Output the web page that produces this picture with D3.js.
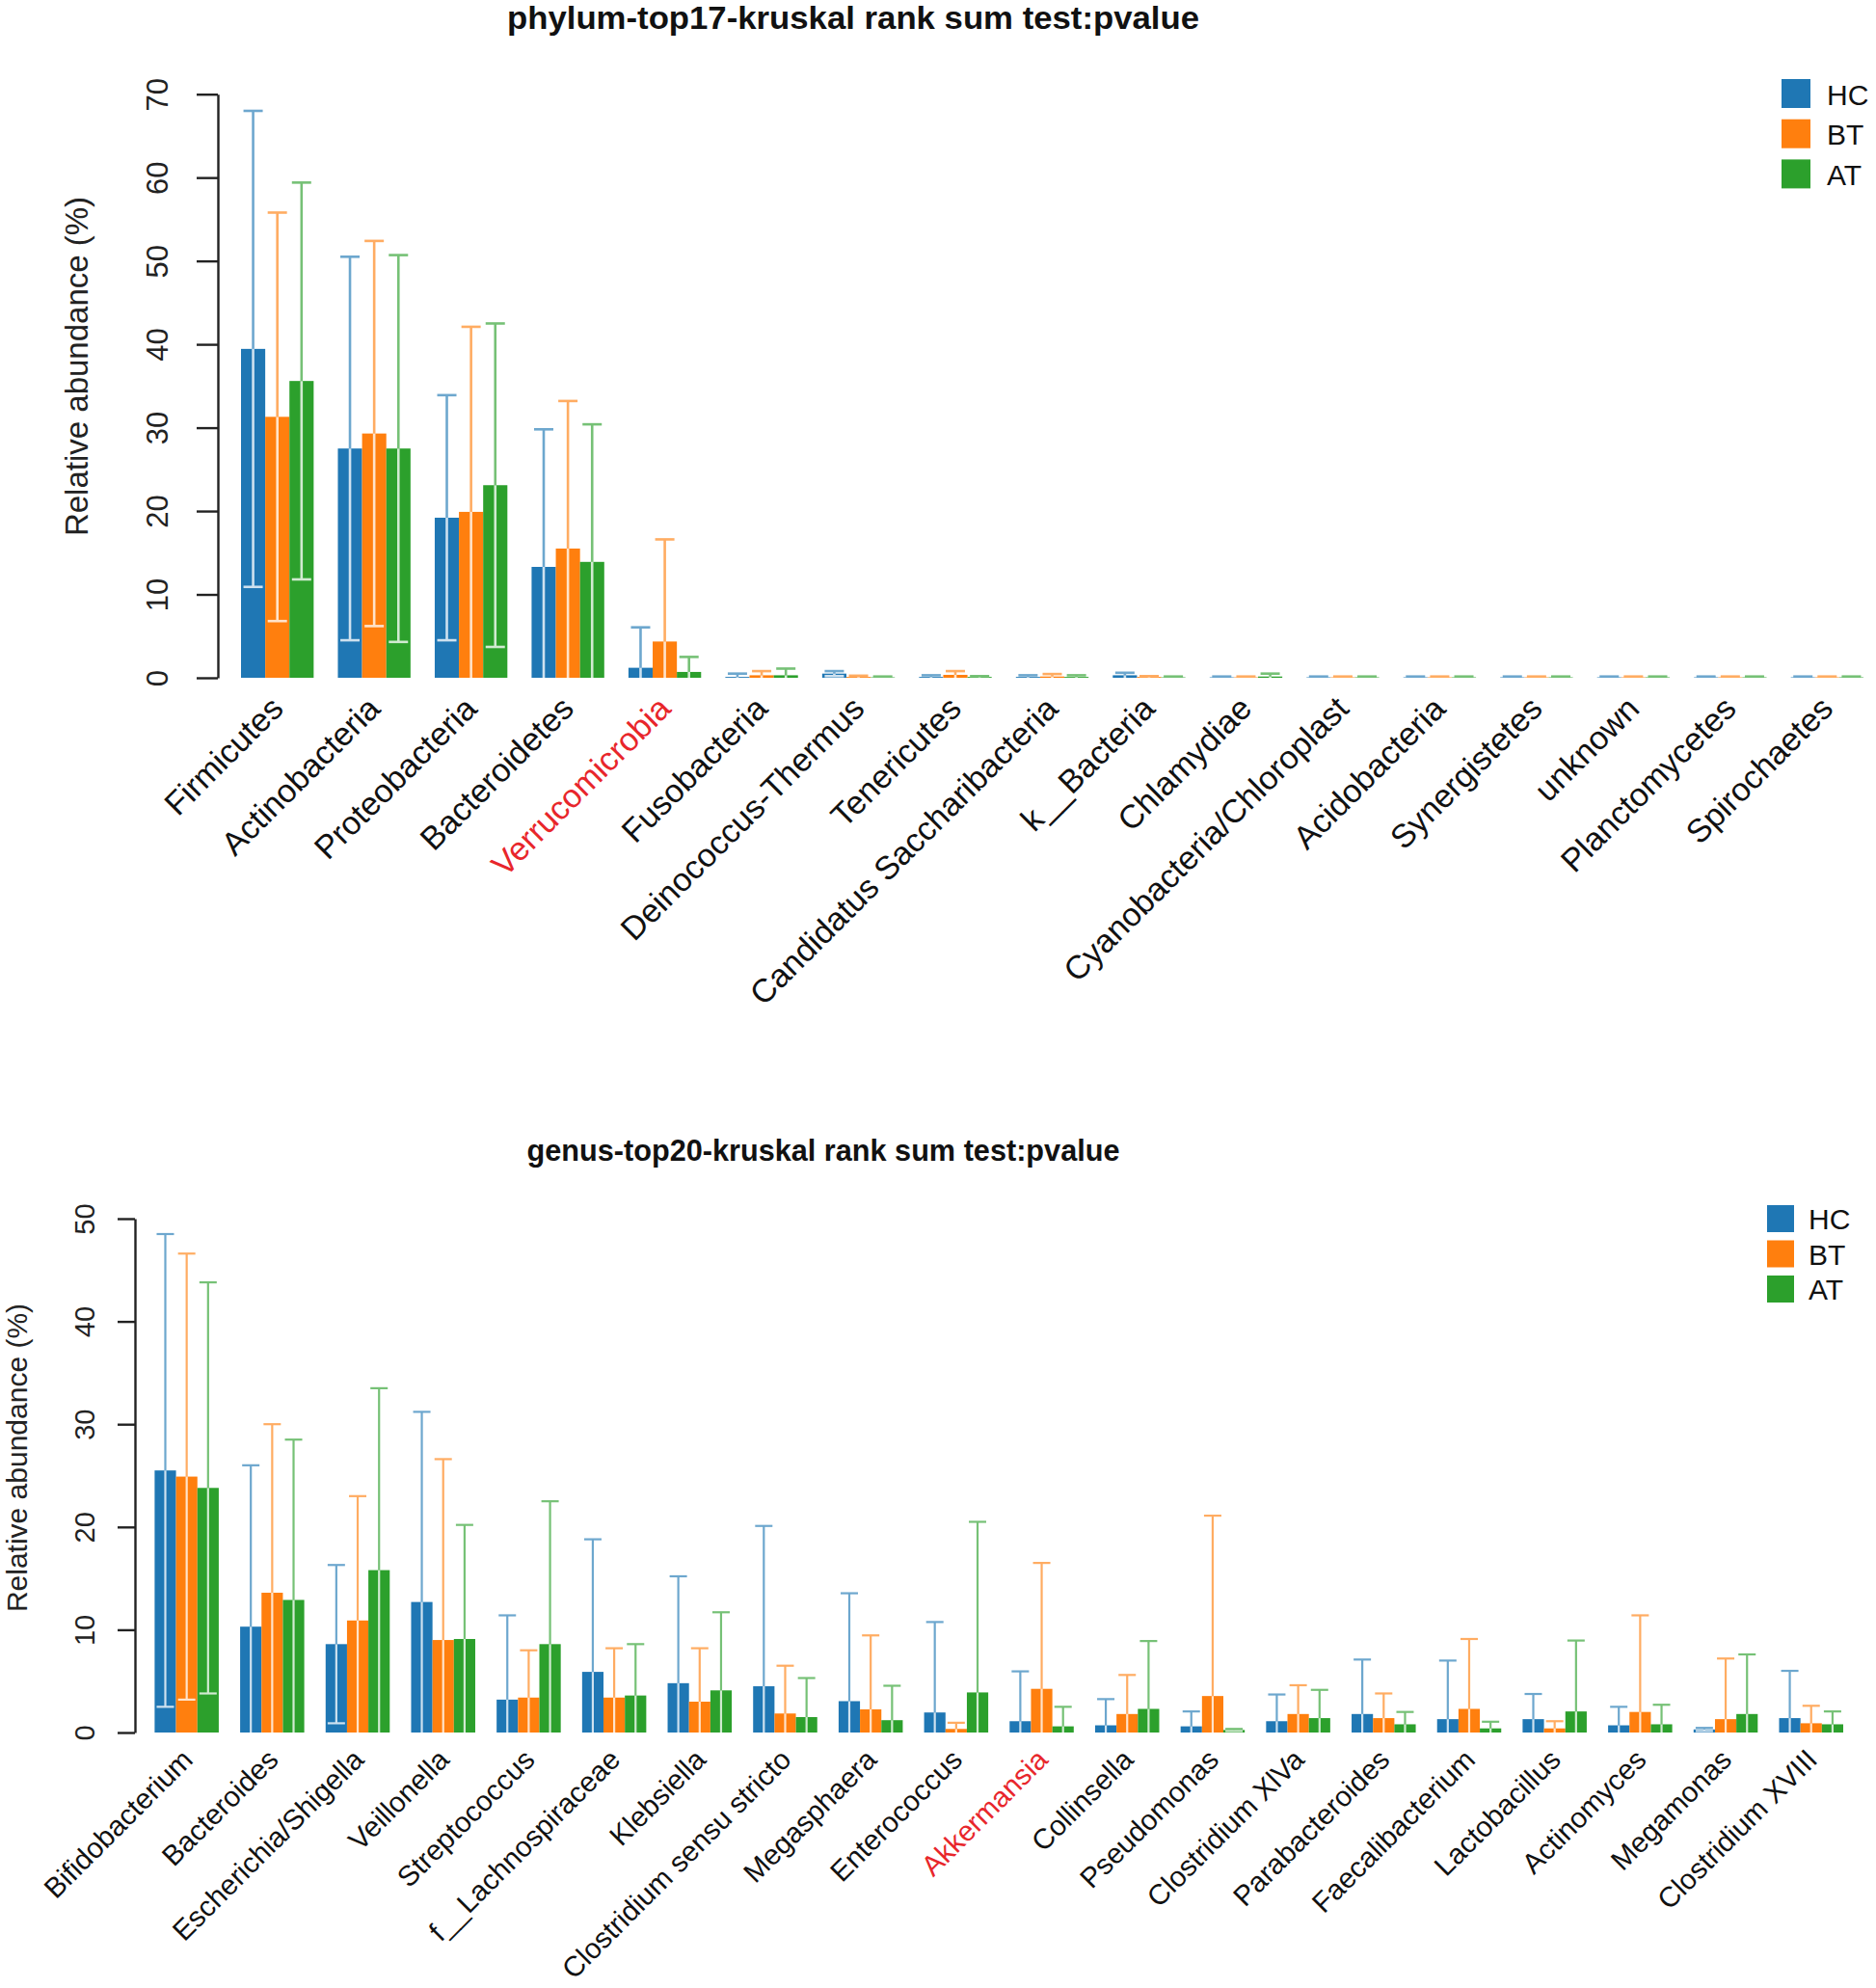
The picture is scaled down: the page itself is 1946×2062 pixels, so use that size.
<!DOCTYPE html>
<html>
<head>
<meta charset="utf-8">
<script src="https://cdn.jsdelivr.net/npm/d3@7"></script>
<style>
  html, body { margin: 0; padding: 0; background: #ffffff; }
  svg { display: block; }
  text { font-family: "Liberation Sans", Arial, Helvetica, sans-serif; }
</style>
</head>
<body>
<svg id="chart" width="1946" height="2062"></svg>
<script>
// ---------------- Data ----------------
const groups = ["HC", "BT", "AT"];
const groupColors = ["#1f77b4", "#ff7f0e", "#2ca02c"];

// Phylum level (mean and SD, relative abundance %)
const phylumCats = ["Firmicutes", "Actinobacteria", "Proteobacteria", "Bacteroidetes", "Verrucomicrobia",
  "Fusobacteria", "Deinococcus-Thermus", "Tenericutes", "Candidatus Saccharibacteria", "k__Bacteria",
  "Chlamydiae", "Cyanobacteria/Chloroplast", "Acidobacteria", "Synergistetes", "unknown",
  "Planctomycetes", "Spirochaetes"];
const phylumHCMean = [39.45, 27.5, 19.2, 13.3, 1.2, 0.1, 0.5, 0.1, 0.1, 0.3, 0.05, 0.05, 0.05, 0.05, 0.05, 0.05, 0.05];
const phylumHCSd   = [28.55, 23.0, 14.7, 16.5, 4.85, 0.4, 0.3, 0.2, 0.2, 0.3, 0.1, 0.1, 0.1, 0.1, 0.1, 0.1, 0.1];
const phylumBTMean = [31.3, 29.3, 19.9, 15.5, 4.35, 0.3, 0.1, 0.35, 0.15, 0.1, 0.05, 0.05, 0.05, 0.05, 0.05, 0.05, 0.05];
const phylumBTSd   = [24.5, 23.1, 22.2, 17.7, 12.25, 0.5, 0.15, 0.45, 0.3, 0.1, 0.1, 0.1, 0.1, 0.1, 0.1, 0.1, 0.1];
const phylumATMean = [35.6, 27.5, 23.1, 13.9, 0.7, 0.3, 0.05, 0.1, 0.1, 0.05, 0.15, 0.05, 0.05, 0.05, 0.05, 0.05, 0.05];
const phylumATSd   = [23.8, 23.2, 19.4, 16.5, 1.8, 0.8, 0.1, 0.1, 0.2, 0.1, 0.35, 0.1, 0.1, 0.1, 0.1, 0.1, 0.1];
const phylumTicks  = [0, 10, 20, 30, 40, 50, 60, 70];
const phylumHighlight = ["Verrucomicrobia"];
const phylumTitle = "phylum-top17-kruskal rank sum test:pvalue";

// Genus level
const genusCats = ["Bifidobacterium", "Bacteroides", "Escherichia/Shigella", "Veillonella", "Streptococcus",
  "f__Lachnospiraceae", "Klebsiella", "Clostridium sensu stricto", "Megasphaera", "Enterococcus",
  "Akkermansia", "Collinsella", "Pseudomonas", "Clostridium XlVa", "Parabacteroides",
  "Faecalibacterium", "Lactobacillus", "Actinomyces", "Megamonas", "Clostridium XVIII"];
const genusHCMean = [25.5, 10.3, 8.6, 12.7, 3.2, 5.9, 4.8, 4.5, 3.05, 1.95, 1.1, 0.7, 0.6, 1.1, 1.8, 1.3, 1.3, 0.7, 0.3, 1.4];
const genusHCSd   = [23.0, 15.7, 7.7, 18.5, 8.2, 12.9, 10.4, 15.6, 10.5, 8.8, 4.85, 2.55, 1.45, 2.6, 5.3, 5.7, 2.45, 1.8, 0.15, 4.6];
const genusBTMean = [24.9, 13.6, 10.9, 9.0, 3.4, 3.4, 3.0, 1.85, 2.25, 0.35, 4.25, 1.8, 3.55, 1.8, 1.4, 2.3, 0.4, 2.0, 1.3, 0.9];
const genusBTSd   = [21.7, 16.4, 12.1, 17.6, 4.6, 4.8, 5.2, 4.65, 7.2, 0.6, 12.25, 3.8, 17.55, 2.8, 2.4, 6.8, 0.7, 9.4, 5.9, 1.7];
const genusATMean = [23.8, 12.9, 15.8, 9.1, 8.6, 3.6, 4.1, 1.5, 1.2, 3.9, 0.6, 2.3, 0.25, 1.4, 0.8, 0.4, 2.05, 0.8, 1.8, 0.8];
const genusATSd   = [20.0, 15.6, 17.7, 11.1, 13.9, 5.0, 7.6, 3.8, 3.35, 16.6, 1.9, 6.6, 0.1, 2.75, 1.2, 0.65, 6.9, 1.9, 5.8, 1.25];
const genusTicks  = [0, 10, 20, 30, 40, 50];
const genusHighlight = ["Akkermansia"];
const genusTitle = "genus-top20-kruskal rank sum test:pvalue";

// ---------------- Drawing ----------------
const svg = d3.select("#chart");
svg.append("rect").attr("width", 1946).attr("height", 2062).attr("fill", "#ffffff");

function tint(c, t) { return d3.interpolateRgb(c, "#ffffff")(t); }

function drawPanel(cfg) {
  const g = svg.append("g");
  const rows = cfg.cats.map((c, i) => ({
    cat: c,
    vals: groups.map((grp, k) => ({ grp, k, mean: cfg.means[k][i], sd: cfg.sds[k][i] }))
  }));

  const x0 = d3.scaleBand().domain(cfg.cats).range(cfg.xRange).paddingInner(0.25).paddingOuter(0);
  const x1 = d3.scaleBand().domain(groups).range([0, x0.bandwidth()]).padding(0);
  const y = d3.scaleLinear().domain([0, cfg.yMax]).range(cfg.yRange);

  // Title
  g.append("text")
    .attr("x", cfg.titleX).attr("y", cfg.titleY)
    .attr("text-anchor", "middle")
    .attr("font-weight", "bold")
    .attr("font-size", cfg.titleSize)
    .attr("textLength", cfg.titleLen)
    .attr("lengthAdjust", "spacingAndGlyphs")
    .attr("fill", "#111")
    .text(cfg.title);

  // Y axis
  const axis = d3.axisLeft(y).tickValues(cfg.ticks).tickSize(cfg.tickLen).tickSizeOuter(0)
    .tickFormat(d3.format("d"));
  const ag = g.append("g").attr("transform", `translate(${cfg.axisX},0)`).call(axis);
  ag.select(".domain").attr("stroke", "#222").attr("stroke-width", 2.4);
  ag.selectAll(".tick line").attr("stroke", "#222").attr("stroke-width", 2.4);
  ag.selectAll(".tick text")
    .attr("x", null).attr("dy", null).attr("y", null)
    .attr("transform", `translate(${-cfg.tickLabelOffset},0) rotate(-90)`)
    .attr("text-anchor", "middle")
    .attr("font-family", "'Liberation Sans', Arial, sans-serif")
    .attr("font-size", cfg.tickFont)
    .attr("fill", "#222");

  // Y title
  g.append("text")
    .attr("transform", `translate(${cfg.yTitleX},${cfg.yTitleY}) rotate(-90)`)
    .attr("text-anchor", "middle")
    .attr("font-size", cfg.yTitleFont)
    .attr("fill", "#222")
    .text("Relative abundance (%)");

  // Bars
  const grpG = g.selectAll("g.grp").data(rows).join("g")
    .attr("class", "grp")
    .attr("transform", d => `translate(${x0(d.cat)},0)`);

  grpG.selectAll("rect").data(d => d.vals).join("rect")
    .attr("x", d => x1(d.grp))
    .attr("width", x1.bandwidth())
    .attr("y", d => y(d.mean))
    .attr("height", d => y(0) - y(d.mean))
    .attr("fill", d => groupColors[d.k]);

  // Error bars
  const cap = cfg.capHalf;
  const eb = grpG.selectAll("g.eb").data(d => d.vals).join("g").attr("class", "eb")
    .attr("transform", d => `translate(${x1(d.grp) + x1.bandwidth() / 2},0)`);
  // lower part (inside bar)
  eb.append("line")
    .attr("x1", 0).attr("x2", 0)
    .attr("y1", d => y(Math.max(0, d.mean - d.sd)))
    .attr("y2", d => y(d.mean))
    .attr("stroke", d => tint(groupColors[d.k], 0.78))
    .attr("stroke-width", cfg.ebWidth);
  eb.filter(d => d.mean - d.sd > 0).append("line")
    .attr("x1", -cap).attr("x2", cap)
    .attr("y1", d => y(d.mean - d.sd)).attr("y2", d => y(d.mean - d.sd))
    .attr("stroke", d => tint(groupColors[d.k], 0.78))
    .attr("stroke-width", cfg.ebWidth);
  // upper part
  eb.append("line")
    .attr("x1", 0).attr("x2", 0)
    .attr("y1", d => y(d.mean))
    .attr("y2", d => y(d.mean + d.sd))
    .attr("stroke", d => tint(groupColors[d.k], 0.35))
    .attr("stroke-width", cfg.ebWidth);
  eb.append("line")
    .attr("x1", -cap).attr("x2", cap)
    .attr("y1", d => y(d.mean + d.sd)).attr("y2", d => y(d.mean + d.sd))
    .attr("stroke", d => tint(groupColors[d.k], 0.35))
    .attr("stroke-width", cfg.ebWidth);

  // Category labels
  g.selectAll("text.cat").data(cfg.cats).join("text")
    .attr("class", "cat")
    .attr("transform", d => `translate(${x0(d) + x0.bandwidth() / 2 + cfg.labelDx},${y(0) + cfg.labelDy}) rotate(-45)`)
    .attr("text-anchor", "end")
    .attr("font-size", cfg.labelFont)
    .attr("fill", d => cfg.highlight.includes(d) ? "#e8262b" : "#111")
    .text(d => d);

  // Legend
  const lg = g.append("g").attr("transform", `translate(${cfg.legX},${cfg.legY})`);
  groups.forEach((grp, k) => {
    lg.append("rect")
      .attr("x", 0).attr("y", k * cfg.legStep)
      .attr("width", cfg.legBox).attr("height", cfg.legBox)
      .attr("fill", groupColors[k]);
    lg.append("text")
      .attr("x", cfg.legTextDx).attr("y", k * cfg.legStep + cfg.legTextDy)
      .attr("font-size", cfg.legFont)
      .attr("fill", "#111")
      .text(grp);
  });
}

drawPanel({
  cats: phylumCats,
  means: [phylumHCMean, phylumBTMean, phylumATMean],
  sds: [phylumHCSd, phylumBTSd, phylumATSd],
  ticks: phylumTicks, yMax: 70,
  xRange: [250, 1933], yRange: [703, 97.7],
  title: phylumTitle, titleX: 885, titleY: 30, titleSize: 33, titleLen: 718,
  axisX: 226, tickLen: 22, tickLabelOffset: 52, tickFont: 31,
  yTitleX: 91, yTitleY: 380, yTitleFont: 33,
  ebWidth: 2.6, capHalf: 10,
  labelFont: 34, labelDx: 8, labelDy: 34,
  highlight: phylumHighlight,
  legX: 1848, legY: 82, legBox: 30, legStep: 41.7, legTextDx: 47, legTextDy: 26.5, legFont: 30
});

drawPanel({
  cats: genusCats,
  means: [genusHCMean, genusBTMean, genusATMean],
  sds: [genusHCSd, genusBTSd, genusATSd],
  ticks: genusTicks, yMax: 50,
  xRange: [160.4, 1912], yRange: [1797, 1264],
  title: genusTitle, titleX: 854, titleY: 1204, titleSize: 30.5, titleLen: 615,
  axisX: 140, tickLen: 18, tickLabelOffset: 42, tickFont: 29,
  yTitleX: 28, yTitleY: 1512, yTitleFont: 30,
  ebWidth: 2.2, capHalf: 9,
  labelFont: 29.5, labelDx: 8, labelDy: 30,
  highlight: genusHighlight,
  legX: 1833, legY: 1250, legBox: 28, legStep: 36.5, legTextDx: 43, legTextDy: 25, legFont: 30
});
</script>
</body>
</html>
